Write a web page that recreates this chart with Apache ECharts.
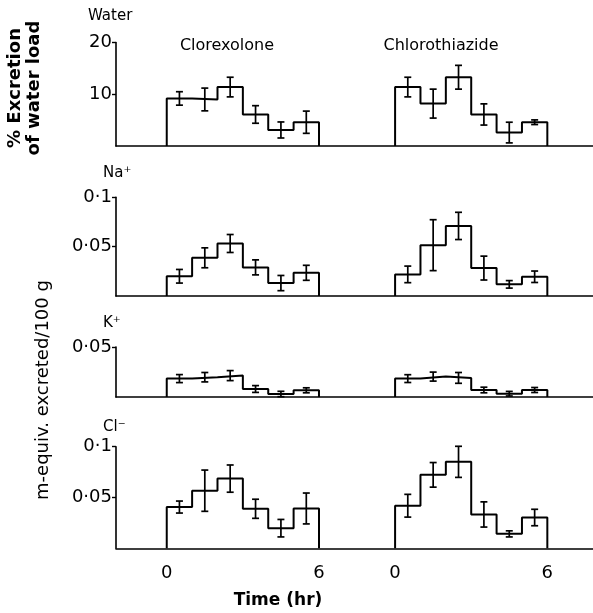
<!DOCTYPE html>
<html>
<head>
<meta charset="utf-8">
<script src="https://cdn.jsdelivr.net/npm/echarts@6/dist/echarts.min.js"></script>
<style>
html,body{margin:0;padding:0;background:#fff;}
#chart{width:593px;height:613px;}
</style>
</head>
<body>
<div id="chart"></div>
<script>
// ---- data (hourly collection periods 0-1 ... 5-6 hr) ----
const hours = [0, 1, 2, 3, 4, 5, 6];
const drugs = ['Clorexolone', 'Chlorothiazide'];
const drugOffset = [0, 9]; // second drug plotted after a gap on the shared time axis

const waterClorexolone = [9.2, 9.0, 11.4, 6.1, 3.1, 4.6];
const waterClorexoloneErr = [1.3, 2.2, 1.9, 1.7, 1.55, 2.15];
const waterChlorothiazide = [11.4, 8.2, 13.3, 6.1, 2.6, 4.6];
const waterChlorothiazideErr = [1.9, 2.8, 2.3, 2.05, 2.0, 0.45];

const naClorexolone = [0.020, 0.0387, 0.0532, 0.029, 0.0131, 0.0235];
const naClorexoloneErr = [0.0069, 0.0101, 0.0091, 0.0076, 0.0077, 0.0076];
const naChlorothiazide = [0.0219, 0.0515, 0.071, 0.0283, 0.0118, 0.0195];
const naChlorothiazideErr = [0.0084, 0.0258, 0.0138, 0.0121, 0.0038, 0.0058];

const kClorexolone = [0.0184, 0.0198, 0.0214, 0.008, 0.003, 0.0067];
const kClorexoloneErr = [0.004, 0.0047, 0.005, 0.0034, 0.0027, 0.0025];
const kChlorothiazide = [0.0184, 0.0204, 0.0191, 0.007, 0.0033, 0.007];
const kChlorothiazideErr = [0.0039, 0.0045, 0.0054, 0.0028, 0.0023, 0.0025];

const clClorexolone = [0.0406, 0.0567, 0.0686, 0.0389, 0.0198, 0.0392];
const clClorexoloneErr = [0.0059, 0.0203, 0.0134, 0.0094, 0.0086, 0.0152];
const clChlorothiazide = [0.0419, 0.0723, 0.0851, 0.0333, 0.0142, 0.0303];
const clChlorothiazideErr = [0.0112, 0.0121, 0.0153, 0.0124, 0.003, 0.0081];

const panelLabels = ['Water', 'Na\u207A', 'K\u207A', 'Cl\u207B'];
const yMax = [20, 0.1, 0.05, 0.1];
const yTickValues = [[10, 20], [0.05, 0.1], [0.05], [0.05, 0.1]];
const xTickValues = [0, 6, 9, 15];
const xTickLabels = ['0', '6', '0', '6'];

const panels = [
  [[waterClorexolone, waterClorexoloneErr], [waterChlorothiazide, waterChlorothiazideErr]],
  [[naClorexolone, naClorexoloneErr], [naChlorothiazide, naChlorothiazideErr]],
  [[kClorexolone, kClorexoloneErr], [kChlorothiazide, kChlorothiazideErr]],
  [[clClorexolone, clClorexoloneErr], [clChlorothiazide, clChlorothiazideErr]]
];

// ---- layout ----
const FONT = 'DejaVu Sans';
const gridBoxes = [
  {top: 42.6, height: 103.4},
  {top: 197.3, height: 98.7},
  {top: 347, height: 50},
  {top: 446.7, height: 101.6}
];

const grid = [], xAxis = [], yAxis = [], series = [];
gridBoxes.forEach((g, p) => {
  grid.push({left: 116, right: 0, top: g.top, height: g.height});
  const isLast = p === gridBoxes.length - 1;
  xAxis.push({
    type: 'value', gridIndex: p, min: -2, max: 16.8,
    axisLine: {show: true, onZero: false, lineStyle: {color: '#000', width: 1.6}},
    axisTick: {show: false},
    splitLine: {show: false},
    axisLabel: {
      show: isLast, customValues: xTickValues, margin: 16,
      color: '#000', fontFamily: FONT, fontSize: 18,
      formatter: v => xTickLabels[xTickValues.indexOf(v)]
    }
  });
  yAxis.push({
    type: 'value', gridIndex: p, min: 0, max: yMax[p],
    axisLine: {show: true, onZero: false, lineStyle: {color: '#000', width: 1.6}},
    axisTick: {show: true, customValues: yTickValues[p], length: 4, lineStyle: {color: '#000', width: 1.4}},
    splitLine: {show: false},
    axisLabel: {
      customValues: yTickValues[p], margin: 4,
      color: '#000', fontFamily: FONT, fontSize: 18,
      formatter: v => String(v).replace('.', '\u00B7')
    }
  });
  panels[p].forEach((d, k) => {
    const vals = d[0], errs = d[1], off = drugOffset[k];
    const pts = [[off + hours[0], 0]];
    vals.forEach((v, i) => {
      pts.push([off + hours[i], v]);
      pts.push([off + hours[i + 1], v]);
    });
    pts.push([off + hours[6], 0]);
    series.push({
      type: 'line', xAxisIndex: p, yAxisIndex: p, data: pts,
      symbol: 'none', silent: true, animation: false,
      lineStyle: {color: '#000', width: 2}
    });
    const eb = vals.map((v, i) => [off + (hours[i] + hours[i + 1]) / 2, v, errs[i]]);
    series.push({
      type: 'custom', xAxisIndex: p, yAxisIndex: p, data: eb, silent: true, animation: false,
      renderItem: (params, api) => {
        const x = api.value(0), v = api.value(1), e = api.value(2);
        const top = api.coord([x, v + e]);
        const bot = api.coord([x, v - e]);
        const w = 3.5;
        const st = {stroke: '#000', lineWidth: 1.7};
        return {type: 'group', children: [
          {type: 'line', shape: {x1: top[0], y1: top[1], x2: bot[0], y2: bot[1]}, style: st},
          {type: 'line', shape: {x1: top[0] - w, y1: top[1], x2: top[0] + w, y2: top[1]}, style: st},
          {type: 'line', shape: {x1: bot[0] - w, y1: bot[1], x2: bot[0] + w, y2: bot[1]}, style: st}
        ]};
      }
    });
  });
});

const txt = (text, x, y, size, opts) => Object.assign({
  type: 'text', x: x, y: y,
  style: Object.assign({text: text, fill: '#000', font: size + 'px "' + FONT + '"', textAlign: 'left', textVerticalAlign: 'middle'}, (opts && opts.style) || {})
}, opts && opts.rotation !== undefined ? {rotation: opts.rotation} : {});

const graphic = [
  txt(panelLabels[0], 88, 16, 15),
  txt(drugs[0], 227, 46, 16, {style: {textAlign: 'center'}}),
  txt(drugs[1], 441, 46, 16, {style: {textAlign: 'center'}}),
  txt(panelLabels[1], 103, 173, 15),
  txt(panelLabels[2], 103, 323, 15),
  txt(panelLabels[3], 103, 427, 15),
  txt('% Excretion', 15, 88, 18, {rotation: Math.PI / 2, style: {textAlign: 'center', font: 'bold 18px "' + FONT + '"'}}),
  txt('of water load', 34, 88, 18, {rotation: Math.PI / 2, style: {textAlign: 'center', font: 'bold 18px "' + FONT + '"'}}),
  txt('m-equiv. excreted/100 g', 43, 390, 18, {rotation: Math.PI / 2, style: {textAlign: 'center'}}),
  txt('Time (hr)', 278, 601, 17, {style: {textAlign: 'center', font: 'bold 17px "' + FONT + '"'}})
];

const chart = echarts.init(document.getElementById('chart'), null, {renderer: 'canvas'});
chart.setOption({
  backgroundColor: '#fff',
  animation: false,
  grid: grid, xAxis: xAxis, yAxis: yAxis, series: series, graphic: graphic
});
</script>
</body>
</html>
